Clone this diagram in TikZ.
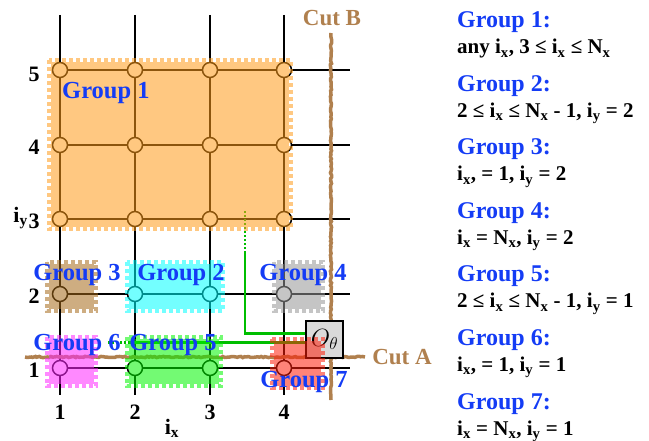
\documentclass[tikz,border=0pt]{standalone}
\usepackage{fontspec}
\setmainfont{Liberation Serif}
\usetikzlibrary{positioning}
\usetikzlibrary{decorations.pathmorphing}

\definecolor{cutbrown}{RGB}{176,128,78}
\definecolor{grpblue}{RGB}{20,60,245}
\definecolor{wiregreen}{RGB}{0,190,0}
\definecolor{boxgray}{RGB}{218,218,218}
\definecolor{gone}{RGB}{255,155,25}
\definecolor{gtwo}{RGB}{0,255,255}
\definecolor{gthree}{RGB}{165,105,25}
\definecolor{gfour}{RGB}{150,150,150}
\definecolor{gfive}{RGB}{0,245,0}
\definecolor{gsix}{RGB}{255,40,255}
\definecolor{gseven}{RGB}{255,30,10}

\newcommand{\sbx}[1]{\textsubscript{#1}}
% perforated group patch: colour, x0, y0, x1, y1
\newcommand{\grpatch}[5]{%
  \fill[#1, opacity=0.55] (#2+4,#3+4) rectangle (#4-4,#5-4);
  \draw[#1, opacity=0.55, line width=4, dash pattern=on 4 off 3] (#2+2,#3+2) rectangle (#4-2,#5-2);
}

\begin{document}
\begin{tikzpicture}[x=1pt, y=-1pt,
    site/.style={circle, draw, line width=1.5, fill=white, minimum size=15, inner sep=0},
    gridline/.style={line width=1.5},
    cut/.style={cutbrown, line width=3.5, decorate, decoration={random steps, segment length=2, amplitude=0.6}},
    wire/.style={wiregreen, line width=2.5},
    grplabel/.style={text=grpblue, font=\fontsize{24.5}{26}\selectfont\bfseries, inner sep=0},
    axlabel/.style={font=\fontsize{22}{24}\selectfont\bfseries, inner sep=0},
    cutlabel/.style={text=cutbrown, font=\fontsize{23}{26}\selectfont\bfseries, inner sep=0},
    title/.style={anchor=base west, text=grpblue, font=\fontsize{24}{26}\selectfont\bfseries, inner sep=0},
    descr/.style={anchor=base west, font=\fontsize{21}{23}\selectfont\bfseries, inner sep=0}]
  \useasboundingbox (0,0) rectangle (649,441);

  % lattice
  \foreach \x in {60,135,210,284}
    \draw[gridline] (\x,15) -- (\x,395);
  \foreach \y in {70,145,219,294,368}
    \draw[gridline] (60,\y) -- (350,\y);
  \foreach \i/\x in {1/60,2/135,3/210,4/284}
    \foreach \j/\y in {1/368,2/294,3/219,4/145,5/70}
      \node[site] (n\i\j) at (\x,\y) {};

  % cuts
  \draw[cut] (331,33) -- (331,400);
  \draw[cut] (25,357) -- (365,357);

  % operator and its wires
  \node[draw, fill=boxgray, line width=1.5, minimum size=37, inner sep=0] (ob) at (324.5,339.5)
    {\fontsize{25}{25}\selectfont$O_\theta$};
  \coordinate (gv) at (245,253);
  \coordinate (gvt) at (245,210);
  \coordinate (gh) at (130,342.5);
  \coordinate (ght) at (107,342.5);
  \draw[wire] ([yshift=6pt]ob.west) -| (gv);
  \draw[wire, dash pattern=on 2 off 2] (gv) -- (gvt);
  \draw[wire] ([yshift=-3pt]ob.west) -- (gh);
  \draw[wire, dash pattern=on 2 off 2] (gh) -- (ght);

  % groups
  \grpatch{gone}{47}{58}{293}{231}
  \grpatch{gthree}{45}{260}{98}{313}
  \grpatch{gtwo}{125}{260}{225}{313}
  \grpatch{gfour}{272}{260}{325}{313}
  \grpatch{gsix}{45}{335}{98}{388}
  \grpatch{gfive}{125}{335}{223}{388}
  \grpatch{gseven}{270}{337}{325}{390}

  \node[grplabel, anchor=west] (l1) at (62,93) {Group 1};
  \node[grplabel] (l3) at (77,275) {Group 3};
  \node[grplabel] (l2) at (181,275) {Group 2};
  \node[grplabel] (l4) at (303,275) {Group 4};
  \node[grplabel] (l6) at (77,345) {Group 6};
  \node[grplabel] (l5) at (173,345) {Group 5};
  \node[grplabel] (l7) at (304,382) {Group 7};

  % axes
  \node[axlabel] (y5) at (34,74) {5};
  \node[axlabel] (y4) at (34,147) {4};
  \node[axlabel] (y3) at (34,221) {3};
  \node[axlabel, anchor=east] (iy) at (28,218) {i\sbx{y}};
  \node[axlabel] (y2) at (34,296) {2};
  \node[axlabel] (y1) at (34,370) {1};
  \foreach \i/\x in {1/60,2/135,3/210,4/284}
    \node[axlabel] (x\i) at (\x,412) {\i};
  \node[axlabel] (ix) at (172,428) {i\sbx{x}};

  \node[cutlabel] (cb) at (332,18) {Cut B};
  \node[cutlabel] (ca) at (402,357) {Cut A};

  % legend
  \node[title] (t1) at (457,28) {Group 1:};
  \node[descr] (d1) at (457,54) {any i\sbx{x}, 3 ≤ i\sbx{x} ≤ N\sbx{x}};
  \node[title] (t2) at (457,91.5) {Group 2:};
  \node[descr] (d2) at (457,117.5) {2 ≤ i\sbx{x} ≤ N\sbx{x} - 1, i\sbx{y} = 2};
  \node[title] (t3) at (457,155) {Group 3:};
  \node[descr] (d3) at (457,181) {i\sbx{x}, = 1, i\sbx{y} = 2};
  \node[title] (t4) at (457,218.5) {Group 4:};
  \node[descr] (d4) at (457,244.5) {i\sbx{x} = N\sbx{x}, i\sbx{y} = 2};
  \node[title] (t5) at (457,282) {Group 5:};
  \node[descr] (d5) at (457,308) {2 ≤ i\sbx{x} ≤ N\sbx{x} - 1, i\sbx{y} = 1};
  \node[title] (t6) at (457,345.5) {Group 6:};
  \node[descr] (d6) at (457,371.5) {i\sbx{x}, = 1, i\sbx{y} = 1};
  \node[title] (t7) at (457,409) {Group 7:};
  \node[descr] (d7) at (457,435) {i\sbx{x} = N\sbx{x}, i\sbx{y} = 1};
\end{tikzpicture}
\end{document}
